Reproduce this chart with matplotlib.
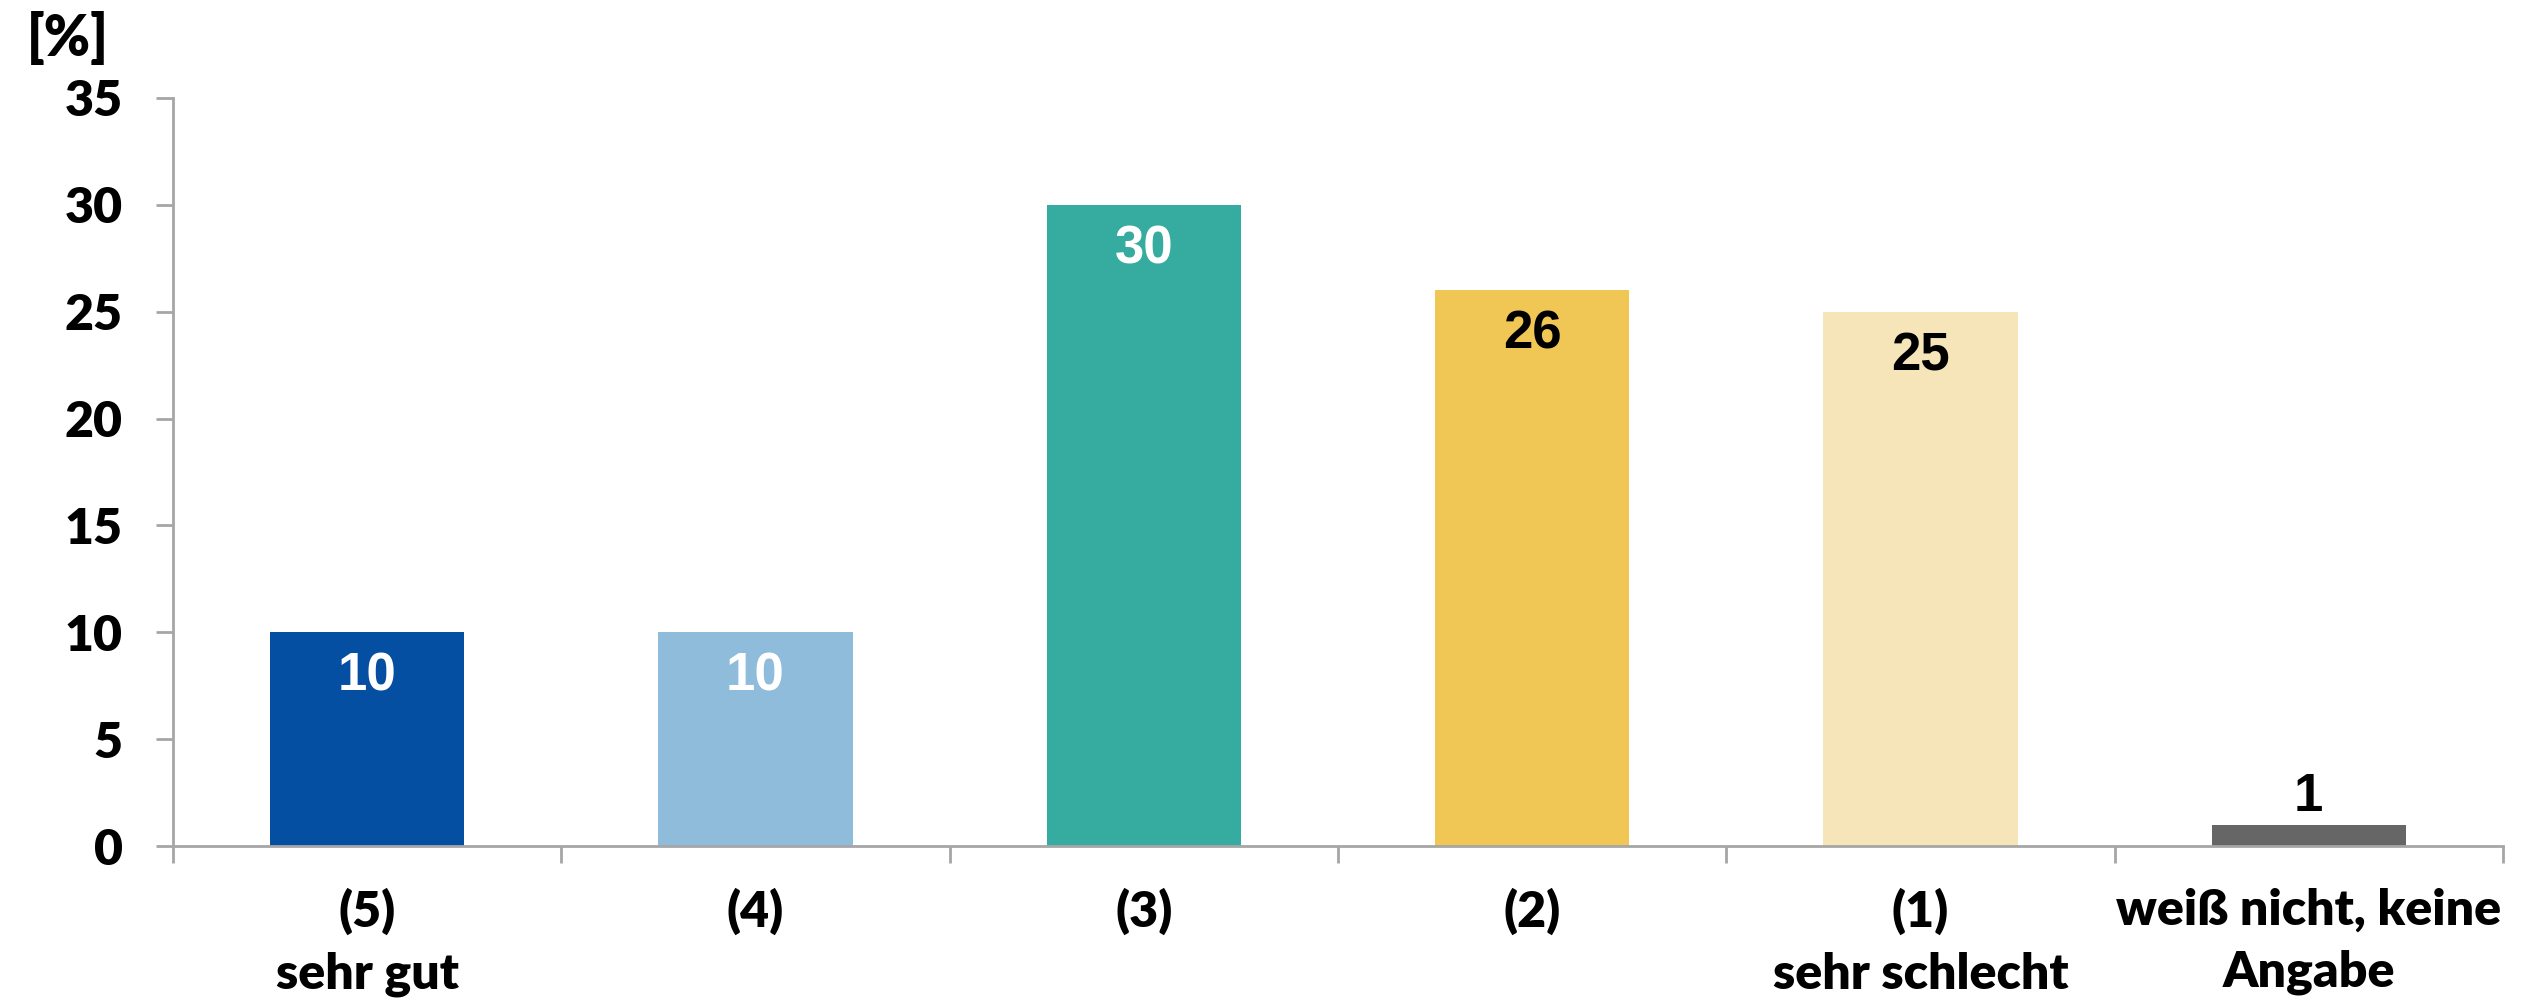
import matplotlib
matplotlib.use("Agg")
import matplotlib.pyplot as plt
import numpy as np
from matplotlib.ticker import FixedLocator

categories = ["(5)\nsehr gut", "(4)", "(3)", "(2)", "(1)\nsehr schlecht", "weiß nicht, keine\nAngabe"]
values = [10, 10, 30, 26, 25, 1]
colors = ["#054FA3", "#8FBCDB", "#36AB9F", "#F0C654", "#F5E5B8", "#666666"]
label_colors = ["white", "white", "white", "black", "black", "black"]
yticks = [0, 5, 10, 15, 20, 25, 30, 35]

axis_grey = "#A6A6A6"
tick_font = "Lato"
value_font = ["Liberation Sans", "DejaVu Sans"]

fig = plt.figure(figsize=(25.39, 10.05), dpi=100)
ax = fig.add_axes([0.0681, 0.1582, 0.9177, 0.7443])

x = np.arange(len(values))
bars = ax.bar(x, values, width=0.5, color=colors)

ax.set_xlim(-0.5, len(values) - 0.5)
ax.set_ylim(0, 35)

for spine in ["top", "right"]:
    ax.spines[spine].set_visible(False)
for spine in ["left", "bottom"]:
    ax.spines[spine].set_color(axis_grey)
    ax.spines[spine].set_linewidth(2)

ax.set_yticks(yticks)
ax.set_yticklabels([str(t) for t in yticks], fontsize=36, fontweight="heavy", fontfamily=tick_font)
ax.tick_params(axis="y", length=12, width=2, color=axis_grey, pad=24)

ax.set_xticks(x)
ax.set_xticklabels(categories, fontsize=36, fontweight="heavy", fontfamily=tick_font, linespacing=1.45)
ax.tick_params(axis="x", which="major", length=0, pad=30)
ax.xaxis.set_minor_locator(FixedLocator(np.arange(len(values) + 1) - 0.5))
ax.tick_params(axis="x", which="minor", length=12, width=2, color=axis_grey)

for i, b in enumerate(bars):
    v = values[i]
    if v >= 5:
        ax.annotate(str(v), (b.get_x() + b.get_width() / 2, v), xytext=(0, -32),
                    textcoords="offset points", ha="center", va="center",
                    fontsize=38, fontweight="bold", family=value_font, color=label_colors[i])
    else:
        ax.annotate(str(v), (b.get_x() + b.get_width() / 2, v), xytext=(0, 10),
                    textcoords="offset points", ha="center", va="baseline",
                    fontsize=38, fontweight="bold", family=value_font, color=label_colors[i])

fig.text(0.0106, 0.935, "[%]", fontsize=40, fontweight="heavy", fontfamily=tick_font, va="bottom")

fig.savefig("out.png", dpi=100)
